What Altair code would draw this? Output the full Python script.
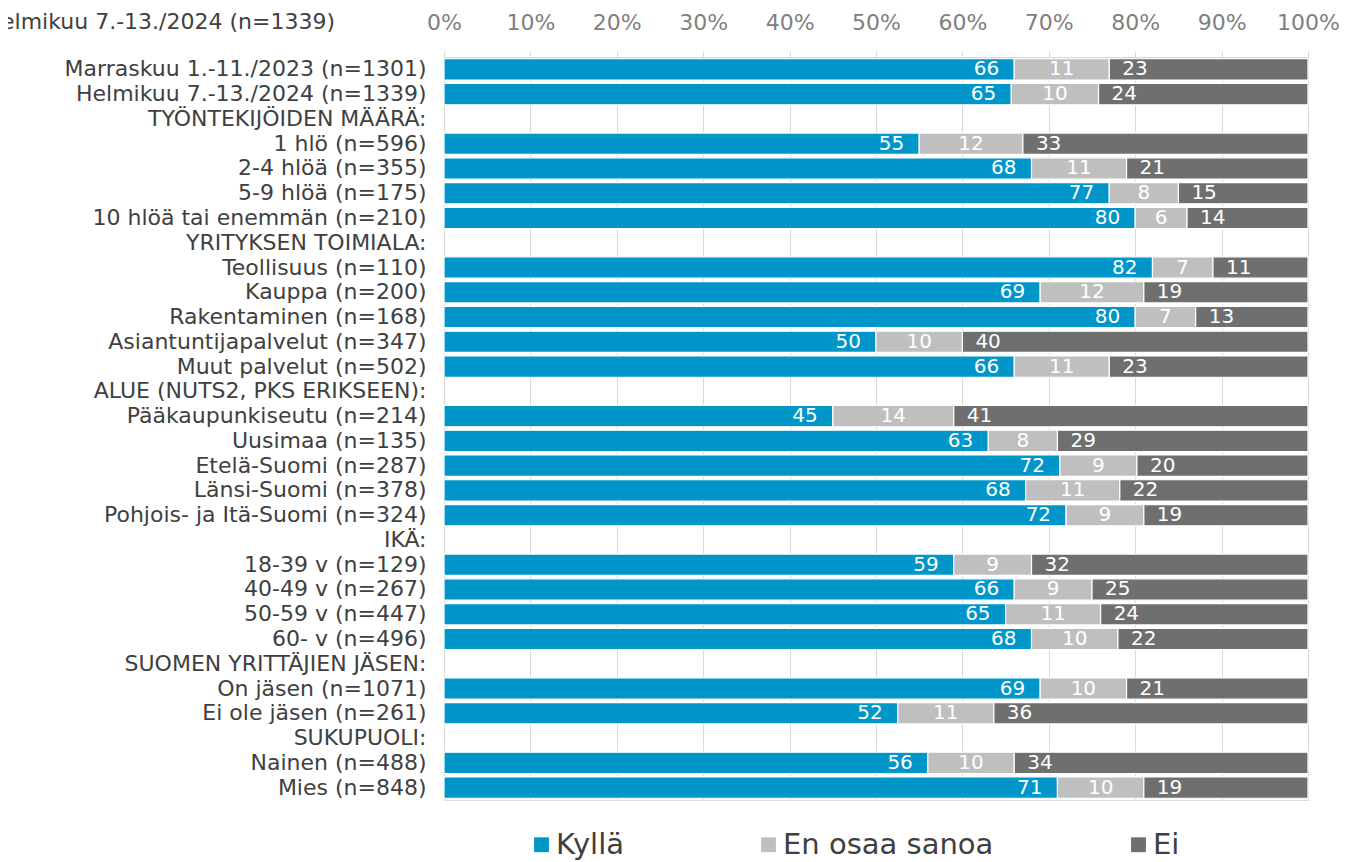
import altair as alt
import pandas as pd

labels = [
    "Marraskuu 1.-11./2023 (n=1301)",
    "Helmikuu 7.-13./2024 (n=1339)",
    "TYÖNTEKIJÖIDEN MÄÄRÄ:",
    "1 hlö (n=596)",
    "2-4 hlöä (n=355)",
    "5-9 hlöä (n=175)",
    "10 hlöä tai enemmän (n=210)",
    "YRITYKSEN TOIMIALA:",
    "Teollisuus (n=110)",
    "Kauppa (n=200)",
    "Rakentaminen (n=168)",
    "Asiantuntijapalvelut (n=347)",
    "Muut palvelut (n=502)",
    "ALUE (NUTS2, PKS ERIKSEEN):",
    "Pääkaupunkiseutu (n=214)",
    "Uusimaa (n=135)",
    "Etelä-Suomi (n=287)",
    "Länsi-Suomi (n=378)",
    "Pohjois- ja Itä-Suomi (n=324)",
    "IKÄ:",
    "18-39 v (n=129)",
    "40-49 v (n=267)",
    "50-59 v (n=447)",
    "60- v (n=496)",
    "SUOMEN YRITTÄJIEN JÄSEN:",
    "On jäsen (n=1071)",
    "Ei ole jäsen (n=261)",
    "SUKUPUOLI:",
    "Nainen (n=488)",
    "Mies (n=848)",
]

# None = header row (no bar)
kylla = [66, 65, None, 55, 68, 77, 80, None, 82, 69, 80, 50, 66, None,
         45, 63, 72, 68, 72, None, 59, 66, 65, 68, None, 69, 52, None, 56, 71]
eos = [11, 10, None, 12, 11, 8, 6, None, 7, 12, 7, 10, 11, None,
       14, 8, 9, 11, 9, None, 9, 9, 11, 10, None, 10, 11, None, 10, 10]
ei = [23, 24, None, 33, 21, 15, 14, None, 11, 19, 13, 40, 23, None,
      41, 29, 20, 22, 19, None, 32, 25, 24, 22, None, 21, 36, None, 34, 19]

series = ["Kyllä", "En osaa sanoa", "Ei"]
colors = ["#0096C9", "#BFBFBF", "#6F6F6F"]
x_ticks = [0, 0.1, 0.2, 0.3, 0.4, 0.5, 0.6, 0.7, 0.8, 0.9, 1.0]
corner_title = "Helmikuu 7.-13./2024 (n=1339)"

rows = []
for lab, a, b, c in zip(labels, kylla, eos, ei):
    if a is None:
        continue
    for i, (s, v) in enumerate(zip(series, [a, b, c])):
        rows.append({"label": lab, "series": s, "value": v, "order": i})
df = pd.DataFrame(rows)

FONT = "DejaVu Sans"

base = alt.Chart(df).transform_stack(
    stack="value",
    groupby=["label"],
    as_=["x0", "x1"],
    offset="normalize",
    sort=[alt.SortField("order", order="ascending")],
)

y_enc = alt.Y(
    "label:N",
    scale=alt.Scale(domain=labels, paddingInner=0.14, paddingOuter=0.07),
    axis=alt.Axis(
        title=None, ticks=False, domain=False, labelFontSize=22,
        labelColor="#404040", labelPadding=18, labelLimit=600, labelFont=FONT,
    ),
)

x_enc = alt.X(
    "x0:Q",
    scale=alt.Scale(domain=[0, 1], nice=False),
    axis=alt.Axis(
        orient="top", format="%", values=x_ticks, title=None,
        labelFontSize=22, labelColor="#7F7F7F", labelPadding=17,
        labelFlush=False, labelOverlap=False,
        tickSize=6, tickColor="#D9D9D9", domainColor="#D9D9D9",
        gridColor="#D9D9D9", grid=True, labelFont=FONT,
    ),
)

bars = base.mark_bar(stroke="white", strokeWidth=1.2).encode(
    y=y_enc,
    x=x_enc,
    x2="x1:Q",
    color=alt.Color(
        "series:N",
        scale=alt.Scale(domain=series, range=colors),
        legend=alt.Legend(
            title=None, orient="none", direction="horizontal",
            legendX=83, legendY=773, symbolType="square", symbolSize=220,
            symbolStrokeWidth=0, labelFontSize=29, labelFont=FONT,
            labelColor="#404040", columnPadding=130, labelOffset=0, padding=0,
            labelLimit=500,
        ),
    ),
)

txt_common = dict(color="white", fontSize=20, font=FONT, baseline="middle")

t_kylla = base.transform_filter(alt.datum.series == "Kyllä").mark_text(
    align="right", dx=-15, **txt_common
).encode(y=alt.Y("label:N", scale=alt.Scale(domain=labels)), x="x1:Q", text="value:Q")

t_eos = base.transform_filter(alt.datum.series == "En osaa sanoa").transform_calculate(
    xm="(datum.x0 + datum.x1) / 2"
).mark_text(align="center", **txt_common).encode(
    y=alt.Y("label:N", scale=alt.Scale(domain=labels)), x="xm:Q", text="value:Q"
)

t_ei = base.transform_filter(alt.datum.series == "Ei").mark_text(
    align="left", dx=13, **txt_common
).encode(y=alt.Y("label:N", scale=alt.Scale(domain=labels)), x="x0:Q", text="value:Q")

title_df = pd.DataFrame({"t": [corner_title]})
corner = alt.Chart(title_df).mark_text(
    align="right", baseline="middle", fontSize=22, font=FONT, color="#404040"
).encode(x=alt.value(-109), y=alt.value(-35), text="t:N")

chart = alt.layer(bars, t_kylla, t_eos, t_ei, corner).properties(
    width=864,
    height=743,
    padding={"left": 436, "top": 49, "right": 31, "bottom": 62},
    autosize=alt.AutoSizeParams(type="none"),
).configure_view(stroke=None).configure(font=FONT)

chart.save("out.html", embed_options={"renderer": "svg", "actions": False})
